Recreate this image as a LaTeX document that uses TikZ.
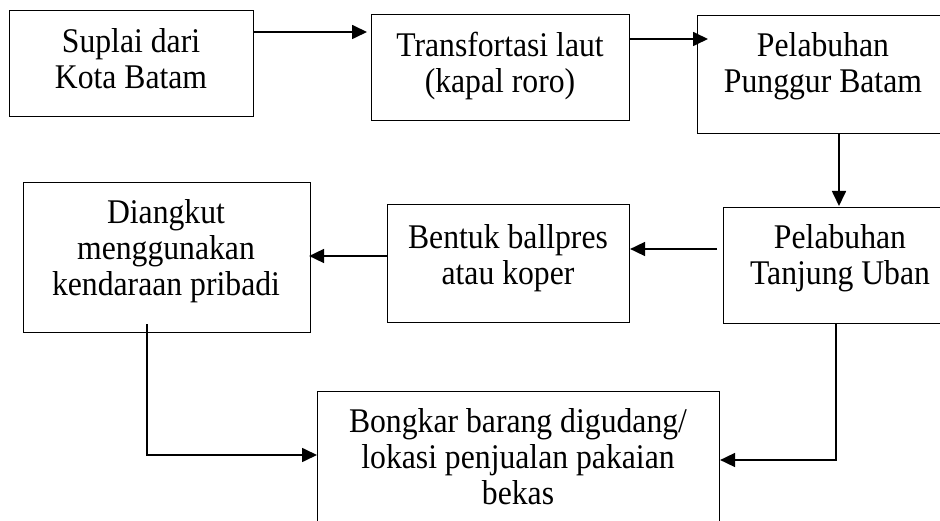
\documentclass[tikz,border=0pt]{standalone}
\usepackage{fontspec}
\setmainfont{Liberation Serif}[FakeStretch=0.916]
\usetikzlibrary{arrows.meta,calc}
\tikzset{
  boxnode/.style={draw, line width=1.1pt, inner sep=0pt, anchor=north west, rectangle},
  txt/.style={anchor=base, inner sep=0pt, font=\fontsize{34.6}{36}\selectfont},
  arr/.style={line width=1.7pt, -{Triangle[length=15pt,width=14pt]}},
}
\newcommand\mylines[1]{\begin{tabular}[t]{@{}c@{}}#1\end{tabular}}
\begin{document}
\begin{tikzpicture}[x=1pt,y=-1pt]
\useasboundingbox (0,0) rectangle (940,521);
\clip (0,0) rectangle (940,521);
% boxes
\node[boxnode, minimum width=244pt, minimum height=106pt] (b1) at (9,10) {};
\node[boxnode, minimum width=258pt, minimum height=106pt] (b2) at (371,14) {};
\node[boxnode, minimum width=260pt, minimum height=118pt] (b3) at (697,15) {};
\node[boxnode, minimum width=287pt, minimum height=150pt] (b4) at (23,182) {};
\node[boxnode, minimum width=242pt, minimum height=118pt] (b5) at (387,204) {};
\node[boxnode, minimum width=240pt, minimum height=116pt] (b6) at (723,207) {};
\node[boxnode, minimum width=402pt, minimum height=160pt] (b7) at (317,391) {};
% texts
\node[txt] (t1) at (131,53) {\mylines{Suplai dari\\Kota Batam}};
\node[txt] (t2) at (500,57) {\mylines{Transfortasi laut\\(kapal roro)}};
\node[txt] (t3) at (823,57) {\mylines{Pelabuhan\\Punggur Batam}};
\node[txt] (t4) at (166,224) {\mylines{Diangkut\\menggunakan\\kendaraan pribadi}};
\node[txt] (t5) at (508,249) {\mylines{Bentuk ballpres\\atau koper}};
\node[txt] (t6) at (840,249) {\mylines{Pelabuhan\\Tanjung Uban}};
\node[txt] (t7) at (518,432) {\mylines{Bongkar barang digudang/\\lokasi penjualan pakaian\\bekas}};
% connectors
\draw[arr, shorten >=4pt] ([yshift=-22pt]b1.north east) coordinate (p1) -- (p1 -| b2.west);
\draw[arr, shorten >=-11pt] ([yshift=-25pt]b2.north east) coordinate (p2) -- (p2 -| b3.west);
\draw[arr, shorten >=1pt] ([xshift=142pt]b3.south west) coordinate (p3) -- (p3 |- b6.north);
\draw[arr, shorten <=6pt] ([yshift=-42pt]b6.north west) coordinate (p4) -- (p4 -| b5.east);
\draw[arr, shorten >=-2pt] ([yshift=-52pt]b5.north west) coordinate (p5) -- (p5 -| b4.east);
\draw[arr] ([xshift=124pt,yshift=9pt]b4.south west) coordinate (p6) |- ([yshift=-64pt]b7.north west);
\draw[arr] ([xshift=113pt]b6.south west) coordinate (p7) |- ([yshift=-69pt]b7.north east);
\end{tikzpicture}
\end{document}
